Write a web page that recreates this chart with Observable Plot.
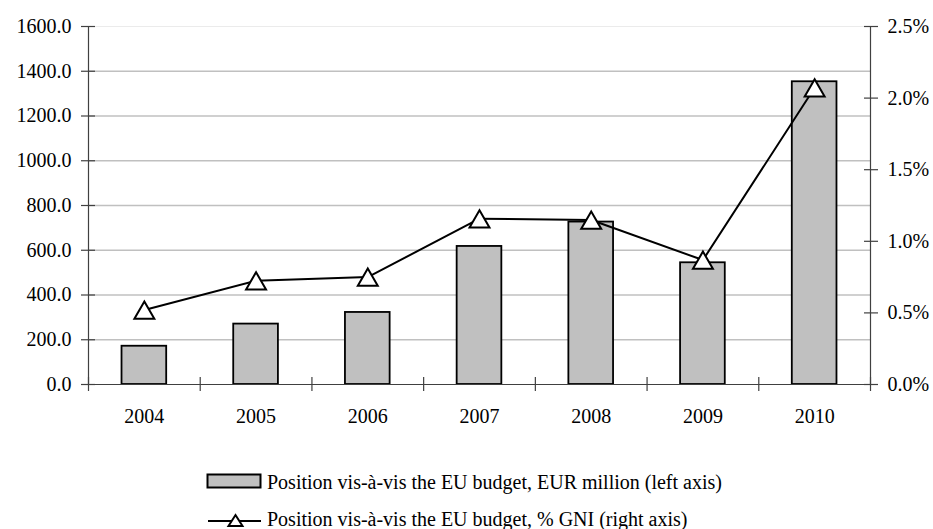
<!DOCTYPE html>
<html><head><meta charset="utf-8">
<script src="https://cdn.jsdelivr.net/npm/d3@7"></script>
<script src="https://cdn.jsdelivr.net/npm/@observablehq/plot@0.6"></script>
<style>
body{margin:0;background:#fff;font-family:"Liberation Serif","Times New Roman",serif;}
#wrap{position:relative;width:933px;height:529px;background:#fff;overflow:hidden;}
#chart{position:absolute;left:0;top:0;}
#chart svg, #chart svg text{font-family:"Liberation Serif","Times New Roman",serif !important;}
.sw{position:absolute;left:206px;}
.lt{position:absolute;left:267px;font-size:20px;line-height:20px;color:#000;white-space:nowrap;}
</style></head><body><div id="wrap"><div id="chart"></div>
<svg class="sw" style="top:473px" width="57" height="17"><rect x="1.5" y="1.5" width="53" height="13" fill="#c0c0c0" stroke="#000" stroke-width="2"/></svg>
<div class="lt" style="top:472px">Position vis-à-vis the EU budget, EUR million (left axis)</div>
<svg class="sw" style="top:511px" width="57" height="18"><line x1="2" y1="10" x2="55" y2="10" stroke="#000" stroke-width="2"/><path d="M29.5,4 L36.5,15 L22.5,15 Z" fill="#fff" stroke="#000" stroke-width="2"/></svg>
<div class="lt" style="top:509px">Position vis-à-vis the EU budget, % GNI (right axis)</div>
</div>
<script>
const years = [2004, 2005, 2006, 2007, 2008, 2009, 2010];
const eurMillion = [171, 270, 322, 617, 726, 544, 1353];
const pctGNI = [0.52, 0.725, 0.75, 1.158, 1.149, 0.869, 2.072];
const leftTicks = [0, 200, 400, 600, 800, 1000, 1200, 1400, 1600];
const rightTicks = [0, 0.5, 1.0, 1.5, 2.0, 2.5];

const K = 1600 / 2.5; // right-axis % mapped onto left-axis scale
const data = years.map((year, i) => ({year, eur: eurMillion[i], pct: pctGNI[i]}));
const bounds = d3.range(years.length + 1).map(i => years[0] - 0.5 + i);
const axisColor = "#404040";
const yMax = leftTicks[leftTicks.length - 1];

const chart = Plot.plot({
  width: 933,
  height: 440,
  marginLeft: 88,
  marginRight: 63,
  marginTop: 26,
  marginBottom: 56,
  x: {type: "linear", domain: [years[0] - 0.5, years[years.length - 1] + 0.5], label: null},
  y: {domain: [0, yMax], label: null},
  style: {fontFamily: "'Liberation Serif', 'Times New Roman', serif", fontSize: "20px", color: "#000", background: "#fff", overflow: "visible"},
  marks: [
    Plot.ruleY(leftTicks.slice(1, -1), {stroke: "#c0c0c0", strokeWidth: 1.6}),
    Plot.ruleY([yMax], {stroke: "#ebebeb", strokeWidth: 1.2}),
    Plot.rectY(data, {x1: d => d.year - 0.2, x2: d => d.year + 0.2, y1: 0, y2: "eur", fill: "#c0c0c0", stroke: "#000", strokeWidth: 1.8}),
    Plot.ruleX([bounds[0], bounds[bounds.length - 1]], {y1: 0, y2: yMax, stroke: axisColor, strokeWidth: 1.2}),
    Plot.ruleY([0], {stroke: axisColor, strokeWidth: 1.2}),
    Plot.axisX({ticks: bounds, tickSize: 14, dy: -7, fill: "none", stroke: axisColor, strokeWidth: 1.2}),
    Plot.axisX({ticks: years, tickSize: 0, tickPadding: 24, tickFormat: d => String(d), fill: "#000"}),
    Plot.axisY({ticks: leftTicks, tickSize: 14, dx: 7, fill: "none", stroke: axisColor, strokeWidth: 1.2}),
    Plot.axisY({ticks: leftTicks, tickSize: 0, tickPadding: 17, tickFormat: d => d.toFixed(1), fill: "#000"}),
    Plot.axisY({anchor: "right", ticks: rightTicks.map(v => v * K), tickSize: 14, dx: -7, fill: "none", stroke: axisColor, strokeWidth: 1.2}),
    Plot.axisY({anchor: "right", ticks: rightTicks.map(v => v * K), tickSize: 0, tickPadding: 17, tickFormat: d => (d / K).toFixed(1) + "%", fill: "#000"}),
    Plot.line(data, {x: "year", y: d => d.pct * K, stroke: "#000", strokeWidth: 2}),
    Plot.dot(data, {x: "year", y: d => d.pct * K, symbol: "triangle", r: 7.4, fill: "#fff", stroke: "#000", strokeWidth: 2, dy: 3})
  ]
});
document.getElementById("chart").appendChild(chart);
</script>
</body></html>
